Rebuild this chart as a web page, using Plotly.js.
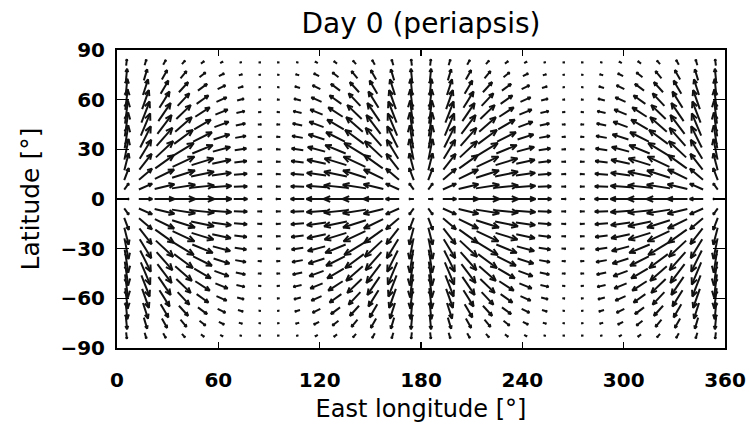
<!DOCTYPE html>
<html><head><meta charset="utf-8">
<script src="https://cdn.plot.ly/plotly-3.0.1.min.js"></script>
<style>html,body{margin:0;padding:0;background:#fff}</style></head>
<body>
<div id="chart" style="width:750px;height:427px"></div>
<script>
// grid of vector positions (degrees)
const lons = [5.625,16.875,28.125,39.375,50.625,61.875,73.125,84.375,95.625,106.875,118.125,129.375,140.625,151.875,163.125,174.375,
              185.625,196.875,208.125,219.375,230.625,241.875,253.125,264.375,275.625,286.875,298.125,309.375,320.625,331.875,343.125,354.375];
const lats = [82.5,75,67.5,60,52.5,45,37.5,30,22.5,15,7.5,0,-7.5,-15,-22.5,-30,-37.5,-45,-52.5,-60,-67.5,-75,-82.5];

// eastward component (rows follow lats, columns follow lons)
const uGrid = [
[.03,.07,.11,.13,.13,.11,.07,.03,-.03,-.07,-.11,-.13,-.13,-.11,-.07,-.03,.03,.07,.11,.13,.13,.11,.07,.03,-.03,-.07,-.11,-.13,-.13,-.11,-.07,-.03],
[.05,.14,.22,.25,.25,.22,.14,.05,-.05,-.14,-.22,-.25,-.25,-.22,-.14,-.05,.05,.14,.22,.25,.25,.22,.14,.05,-.05,-.14,-.22,-.25,-.25,-.22,-.14,-.05],
[.07,.21,.32,.38,.38,.32,.21,.07,-.07,-.21,-.32,-.38,-.38,-.32,-.21,-.07,.07,.21,.32,.38,.38,.32,.21,.07,-.07,-.21,-.32,-.38,-.38,-.32,-.21,-.07],
[.10,.28,.42,.49,.49,.42,.28,.10,-.10,-.28,-.42,-.49,-.49,-.42,-.28,-.10,.10,.28,.42,.49,.49,.42,.28,.10,-.10,-.28,-.42,-.49,-.49,-.42,-.28,-.10],
[.12,.34,.51,.60,.60,.51,.34,.12,-.12,-.34,-.51,-.60,-.60,-.51,-.34,-.12,.12,.34,.51,.60,.60,.51,.34,.12,-.12,-.34,-.51,-.60,-.60,-.51,-.34,-.12],
[.14,.39,.59,.69,.69,.59,.39,.14,-.14,-.39,-.59,-.69,-.69,-.59,-.39,-.14,.14,.39,.59,.69,.69,.59,.39,.14,-.14,-.39,-.59,-.69,-.69,-.59,-.39,-.14],
[.15,.44,.66,.78,.78,.66,.44,.15,-.15,-.44,-.66,-.78,-.78,-.66,-.44,-.15,.15,.44,.66,.78,.78,.66,.44,.15,-.15,-.44,-.66,-.78,-.78,-.66,-.44,-.15],
[.17,.48,.72,.85,.85,.72,.48,.17,-.17,-.48,-.72,-.85,-.85,-.72,-.48,-.17,.17,.48,.72,.85,.85,.72,.48,.17,-.17,-.48,-.72,-.85,-.85,-.72,-.48,-.17],
[.18,.51,.77,.91,.91,.77,.51,.18,-.18,-.51,-.77,-.91,-.91,-.77,-.51,-.18,.18,.51,.77,.91,.91,.77,.51,.18,-.18,-.51,-.77,-.91,-.91,-.77,-.51,-.18],
[.19,.54,.80,.95,.95,.80,.54,.19,-.19,-.54,-.80,-.95,-.95,-.80,-.54,-.19,.19,.54,.80,.95,.95,.80,.54,.19,-.19,-.54,-.80,-.95,-.95,-.80,-.54,-.19],
[.19,.55,.82,.97,.97,.82,.55,.19,-.19,-.55,-.82,-.97,-.97,-.82,-.55,-.19,.19,.55,.82,.97,.97,.82,.55,.19,-.19,-.55,-.82,-.97,-.97,-.82,-.55,-.19],
[.20,.56,.83,.98,.98,.83,.56,.20,-.20,-.56,-.83,-.98,-.98,-.83,-.56,-.20,.20,.56,.83,.98,.98,.83,.56,.20,-.20,-.56,-.83,-.98,-.98,-.83,-.56,-.20],
[.19,.55,.82,.97,.97,.82,.55,.19,-.19,-.55,-.82,-.97,-.97,-.82,-.55,-.19,.19,.55,.82,.97,.97,.82,.55,.19,-.19,-.55,-.82,-.97,-.97,-.82,-.55,-.19],
[.19,.54,.80,.95,.95,.80,.54,.19,-.19,-.54,-.80,-.95,-.95,-.80,-.54,-.19,.19,.54,.80,.95,.95,.80,.54,.19,-.19,-.54,-.80,-.95,-.95,-.80,-.54,-.19],
[.18,.51,.77,.91,.91,.77,.51,.18,-.18,-.51,-.77,-.91,-.91,-.77,-.51,-.18,.18,.51,.77,.91,.91,.77,.51,.18,-.18,-.51,-.77,-.91,-.91,-.77,-.51,-.18],
[.17,.48,.72,.85,.85,.72,.48,.17,-.17,-.48,-.72,-.85,-.85,-.72,-.48,-.17,.17,.48,.72,.85,.85,.72,.48,.17,-.17,-.48,-.72,-.85,-.85,-.72,-.48,-.17],
[.15,.44,.66,.78,.78,.66,.44,.15,-.15,-.44,-.66,-.78,-.78,-.66,-.44,-.15,.15,.44,.66,.78,.78,.66,.44,.15,-.15,-.44,-.66,-.78,-.78,-.66,-.44,-.15],
[.14,.39,.59,.69,.69,.59,.39,.14,-.14,-.39,-.59,-.69,-.69,-.59,-.39,-.14,.14,.39,.59,.69,.69,.59,.39,.14,-.14,-.39,-.59,-.69,-.69,-.59,-.39,-.14],
[.12,.34,.51,.60,.60,.51,.34,.12,-.12,-.34,-.51,-.60,-.60,-.51,-.34,-.12,.12,.34,.51,.60,.60,.51,.34,.12,-.12,-.34,-.51,-.60,-.60,-.51,-.34,-.12],
[.10,.28,.42,.49,.49,.42,.28,.10,-.10,-.28,-.42,-.49,-.49,-.42,-.28,-.10,.10,.28,.42,.49,.49,.42,.28,.10,-.10,-.28,-.42,-.49,-.49,-.42,-.28,-.10],
[.07,.21,.32,.38,.38,.32,.21,.07,-.07,-.21,-.32,-.38,-.38,-.32,-.21,-.07,.07,.21,.32,.38,.38,.32,.21,.07,-.07,-.21,-.32,-.38,-.38,-.32,-.21,-.07],
[.05,.14,.22,.25,.25,.22,.14,.05,-.05,-.14,-.22,-.25,-.25,-.22,-.14,-.05,.05,.14,.22,.25,.25,.22,.14,.05,-.05,-.14,-.22,-.25,-.25,-.22,-.14,-.05],
[.03,.07,.11,.13,.13,.11,.07,.03,-.03,-.07,-.11,-.13,-.13,-.11,-.07,-.03,.03,.07,.11,.13,.13,.11,.07,.03,-.03,-.07,-.11,-.13,-.13,-.11,-.07,-.03]
];

// northward component (rows follow lats, columns follow lons)
const vGrid = [
[.26,.24,.20,.15,.10,.06,.02,.00,.00,.02,.06,.10,.15,.20,.24,.26,.26,.24,.20,.15,.10,.06,.02,.00,.00,.02,.06,.10,.15,.20,.24,.26],
[.50,.46,.39,.30,.20,.11,.04,.01,.01,.04,.11,.20,.30,.39,.46,.50,.50,.46,.39,.30,.20,.11,.04,.01,.01,.04,.11,.20,.30,.39,.46,.50],
[.70,.65,.55,.42,.28,.16,.06,.01,.01,.06,.16,.28,.42,.55,.65,.70,.70,.65,.55,.42,.28,.16,.06,.01,.01,.06,.16,.28,.42,.55,.65,.70],
[.86,.79,.67,.52,.35,.19,.07,.01,.01,.07,.19,.35,.52,.67,.79,.86,.86,.79,.67,.52,.35,.19,.07,.01,.01,.07,.19,.35,.52,.67,.79,.86],
[.96,.88,.75,.58,.39,.21,.08,.01,.01,.08,.21,.39,.58,.75,.88,.96,.96,.88,.75,.58,.39,.21,.08,.01,.01,.08,.21,.39,.58,.75,.88,.96],
[.99,.92,.78,.60,.40,.22,.08,.01,.01,.08,.22,.40,.60,.78,.92,.99,.99,.92,.78,.60,.40,.22,.08,.01,.01,.08,.22,.40,.60,.78,.92,.99],
[.96,.88,.75,.58,.39,.21,.08,.01,.01,.08,.21,.39,.58,.75,.88,.96,.96,.88,.75,.58,.39,.21,.08,.01,.01,.08,.21,.39,.58,.75,.88,.96],
[.86,.79,.67,.52,.35,.19,.07,.01,.01,.07,.19,.35,.52,.67,.79,.86,.86,.79,.67,.52,.35,.19,.07,.01,.01,.07,.19,.35,.52,.67,.79,.86],
[.70,.65,.55,.42,.28,.16,.06,.01,.01,.06,.16,.28,.42,.55,.65,.70,.70,.65,.55,.42,.28,.16,.06,.01,.01,.06,.16,.28,.42,.55,.65,.70],
[.50,.46,.39,.30,.20,.11,.04,.01,.01,.04,.11,.20,.30,.39,.46,.50,.50,.46,.39,.30,.20,.11,.04,.01,.01,.04,.11,.20,.30,.39,.46,.50],
[.26,.24,.20,.15,.10,.06,.02,.00,.00,.02,.06,.10,.15,.20,.24,.26,.26,.24,.20,.15,.10,.06,.02,.00,.00,.02,.06,.10,.15,.20,.24,.26],
[0,0,0,0,0,0,0,0,0,0,0,0,0,0,0,0,0,0,0,0,0,0,0,0,0,0,0,0,0,0,0,0],
[-.26,-.24,-.20,-.15,-.10,-.06,-.02,-.00,-.00,-.02,-.06,-.10,-.15,-.20,-.24,-.26,-.26,-.24,-.20,-.15,-.10,-.06,-.02,-.00,-.00,-.02,-.06,-.10,-.15,-.20,-.24,-.26],
[-.50,-.46,-.39,-.30,-.20,-.11,-.04,-.01,-.01,-.04,-.11,-.20,-.30,-.39,-.46,-.50,-.50,-.46,-.39,-.30,-.20,-.11,-.04,-.01,-.01,-.04,-.11,-.20,-.30,-.39,-.46,-.50],
[-.70,-.65,-.55,-.42,-.28,-.16,-.06,-.01,-.01,-.06,-.16,-.28,-.42,-.55,-.65,-.70,-.70,-.65,-.55,-.42,-.28,-.16,-.06,-.01,-.01,-.06,-.16,-.28,-.42,-.55,-.65,-.70],
[-.86,-.79,-.67,-.52,-.35,-.19,-.07,-.01,-.01,-.07,-.19,-.35,-.52,-.67,-.79,-.86,-.86,-.79,-.67,-.52,-.35,-.19,-.07,-.01,-.01,-.07,-.19,-.35,-.52,-.67,-.79,-.86],
[-.96,-.88,-.75,-.58,-.39,-.21,-.08,-.01,-.01,-.08,-.21,-.39,-.58,-.75,-.88,-.96,-.96,-.88,-.75,-.58,-.39,-.21,-.08,-.01,-.01,-.08,-.21,-.39,-.58,-.75,-.88,-.96],
[-.99,-.92,-.78,-.60,-.40,-.22,-.08,-.01,-.01,-.08,-.22,-.40,-.60,-.78,-.92,-.99,-.99,-.92,-.78,-.60,-.40,-.22,-.08,-.01,-.01,-.08,-.22,-.40,-.60,-.78,-.92,-.99],
[-.96,-.88,-.75,-.58,-.39,-.21,-.08,-.01,-.01,-.08,-.21,-.39,-.58,-.75,-.88,-.96,-.96,-.88,-.75,-.58,-.39,-.21,-.08,-.01,-.01,-.08,-.21,-.39,-.58,-.75,-.88,-.96],
[-.86,-.79,-.67,-.52,-.35,-.19,-.07,-.01,-.01,-.07,-.19,-.35,-.52,-.67,-.79,-.86,-.86,-.79,-.67,-.52,-.35,-.19,-.07,-.01,-.01,-.07,-.19,-.35,-.52,-.67,-.79,-.86],
[-.70,-.65,-.55,-.42,-.28,-.16,-.06,-.01,-.01,-.06,-.16,-.28,-.42,-.55,-.65,-.70,-.70,-.65,-.55,-.42,-.28,-.16,-.06,-.01,-.01,-.06,-.16,-.28,-.42,-.55,-.65,-.70],
[-.50,-.46,-.39,-.30,-.20,-.11,-.04,-.01,-.01,-.04,-.11,-.20,-.30,-.39,-.46,-.50,-.50,-.46,-.39,-.30,-.20,-.11,-.04,-.01,-.01,-.04,-.11,-.20,-.30,-.39,-.46,-.50],
[-.26,-.24,-.20,-.15,-.10,-.06,-.02,-.00,-.00,-.02,-.06,-.10,-.15,-.20,-.24,-.26,-.26,-.24,-.20,-.15,-.10,-.06,-.02,-.00,-.00,-.02,-.06,-.10,-.15,-.20,-.24,-.26]
];

const xTickVals = [0,60,120,180,240,300,360];
const yTickVals = [-90,-60,-30,0,30,60,90];
const titleText = 'Day 0 (periapsis)';
const xTitle = 'East longitude [°]';
const yTitle = 'Latitude [°]';

// ---- layout geometry / style ----
const W = 750, H = 427;
const M = {l:117, r:25, t:50, b:79};
const xRange = [0,360], yRange = [-90,90];
const kx = (W - M.l - M.r) / (xRange[1]-xRange[0]);   // px per degree
const ky = (H - M.t - M.b) / (yRange[1]-yRange[0]);
const PX_PER_UNIT = 24;      // arrow length (px) for magnitude 1
const HEAD = 0.3, HEAD_ANG = 24*Math.PI/180, MIN_PX = 2;

const xs = [], ys = [];
for (let i = 0; i < lats.length; i++) {
  for (let j = 0; j < lons.length; j++) {
    let px = uGrid[i][j]*PX_PER_UNIT, py = vGrid[i][j]*PX_PER_UNIT;
    let len = Math.hypot(px, py);
    let ang = len > 0 ? Math.atan2(py, px) : 0;
    if (len < MIN_PX) len = MIN_PX;
    px = len*Math.cos(ang); py = len*Math.sin(ang);
    const x0 = lons[j], y0 = lats[i];
    const tx = x0 + px/2/kx, ty = y0 + py/2/ky;
    const bx = x0 - px/2/kx, by = y0 - py/2/ky;
    xs.push(bx, tx, null); ys.push(by, ty, null);
    const h = HEAD*len;
    const h1x = tx - h*Math.cos(ang+HEAD_ANG)/kx, h1y = ty - h*Math.sin(ang+HEAD_ANG)/ky;
    const h2x = tx - h*Math.cos(ang-HEAD_ANG)/kx, h2y = ty - h*Math.sin(ang-HEAD_ANG)/ky;
    xs.push(h1x, tx, h2x, null); ys.push(h1y, ty, h2y, null);
  }
}

const trace = {
  type: 'scatter', mode: 'lines', x: xs, y: ys,
  line: {color: '#111', width: 2}, hoverinfo: 'skip', showlegend: false, cliponaxis: true
};

const fontFam = 'DejaVu Sans, Arial, sans-serif';
const layout = {
  width: W, height: H,
  margin: M,
  paper_bgcolor: '#fff', plot_bgcolor: '#fff',
  showlegend: false,
  title: {text: titleText, font: {family: fontFam, size: 28, color: '#000'},
          xref: 'paper', x: 0.5, xanchor: 'center', yref: 'container', y: 1 - 23/H, yanchor: 'middle'},
  xaxis: {range: xRange, tickmode: 'array', tickvals: xTickVals, ticks: 'inside', ticklen: 6, tickwidth: 1.5,
          tickcolor: '#000', showline: true, linecolor: '#000', linewidth: 2, mirror: 'ticks',
          showgrid: false, zeroline: false, ticklabelstandoff: 13,
          tickfont: {family: fontFam, size: 20, color: '#000', weight: 'bold'},
          title: {text: xTitle, font: {family: fontFam, size: 24, color: '#000'}, standoff: 9}},
  yaxis: {range: yRange, tickmode: 'array', tickvals: yTickVals, ticks: 'inside', ticklen: 12, tickwidth: 1.5,
          tickcolor: '#000', showline: true, linecolor: '#000', linewidth: 2, mirror: 'ticks',
          showgrid: false, zeroline: false, ticklabelstandoff: 6,
          tickfont: {family: fontFam, size: 20, color: '#000', weight: 'bold'},
          title: {text: yTitle, font: {family: fontFam, size: 25, color: '#000'}, standoff: 14}}
};

Plotly.newPlot('chart', [trace], layout, {staticPlot: true, displayModeBar: false});
</script>
</body></html>
